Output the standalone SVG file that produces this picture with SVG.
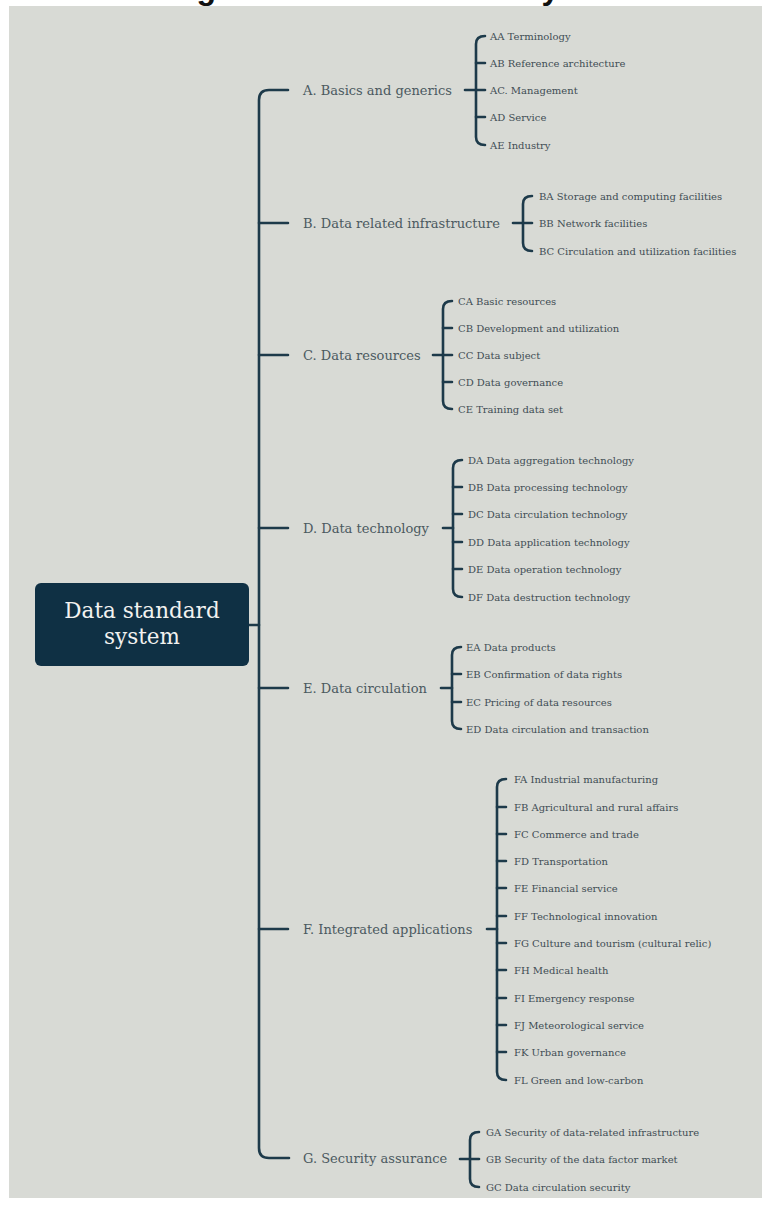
<svg xmlns="http://www.w3.org/2000/svg" width="762" height="1205" viewBox="0 0 762 1205">
  <style>
    .title { font-family: "Liberation Sans", Arial, sans-serif; font-weight: bold; font-size: 32px; fill: #111; }
    .root-box { fill: #0f3044; }
    .root-text { font-family: "DejaVu Serif", "Liberation Serif", serif; font-size: 21.5px; fill: #f2f2f0; text-anchor: middle; }
    .cat { font-family: "DejaVu Serif", "Liberation Serif", serif; font-size: 13px; fill: #4b5960; }
    .leaf { font-family: "DejaVu Serif", "Liberation Serif", serif; font-size: 10px; fill: #3f4d54; }
    .wire { fill: none; stroke: #1d3a4a; stroke-width: 2.6; stroke-linecap: round; stroke-linejoin: round; }
  </style>

  <!-- page background and panel -->
  <rect x="0" y="0" width="762" height="1205" fill="#ffffff"/>
  <text class="title" x="168" y="-1">Figure 1 Data standard system</text>
  <rect x="9" y="6" width="753" height="1192" fill="#d8dad5"/>

  <!-- connectors -->
  <g id="connectors" class="wire">
    <!-- trunk -->
    <path d="M249,625 L259,625"/>
    <path d="M288,90 L269,90 Q259,90 259,100 L259,1148 Q259,1158 269,1158 L289,1158"/>
    <path d="M259,223 L288,223 M259,355 L288,355 M259,528 L288,528 M259,688 L288,688 M259,929 L288,929"/>

    <!-- A brackets -->
    <path d="M465,90 L485,90"/>
    <path d="M485,36 Q476,36 476,44 L476,137 Q476,145 485,145"/>
    <path d="M476,63 L485,63 M476,117 L485,117"/>

    <!-- B -->
    <path d="M513,223 L532,223"/>
    <path d="M532,196 Q523,196 523,204 L523,243 Q523,251 532,251"/>

    <!-- C -->
    <path d="M433,355 L452,355"/>
    <path d="M452,301 Q443,301 443,309 L443,401 Q443,409 452,409"/>
    <path d="M443,328 L452,328 M443,382 L452,382"/>

    <!-- D -->
    <path d="M443,528 L453,528"/>
    <path d="M462,460 Q453,460 453,468 L453,589 Q453,597 462,597"/>
    <path d="M453,487 L462,487 M453,514 L462,514 M453,542 L462,542 M453,569 L462,569"/>

    <!-- E -->
    <path d="M441,688 L452,688"/>
    <path d="M461,647 Q452,647 452,655 L452,721 Q452,729 461,729"/>
    <path d="M452,674 L461,674 M452,702 L461,702"/>

    <!-- F -->
    <path d="M487,929 L497,929"/>
    <path d="M506,779 Q497,779 497,787 L497,1072 Q497,1080 506,1080"/>
    <path d="M497,807 L506,807 M497,834 L506,834 M497,861 L506,861 M497,888 L506,888 M497,916 L506,916 M497,943 L506,943 M497,970 L506,970 M497,998 L506,998 M497,1025 L506,1025 M497,1052 L506,1052"/>

    <!-- G -->
    <path d="M460,1159 L479,1159"/>
    <path d="M479,1132 Q470,1132 470,1140 L470,1179 Q470,1187 479,1187"/>
  </g>

  <!-- root -->
  <g id="root">
    <rect class="root-box" x="35" y="583" width="214" height="83" rx="6"/>
    <text class="root-text" x="142" y="618">Data standard</text>
    <text class="root-text" x="142" y="644">system</text>
  </g>

  <!-- categories -->
  <g id="cat-A"><text class="cat" x="303" y="94.5">A. Basics and generics</text></g>
  <g id="cat-B"><text class="cat" x="303" y="227.5">B. Data related infrastructure</text></g>
  <g id="cat-C"><text class="cat" x="303" y="359.5">C. Data resources</text></g>
  <g id="cat-D"><text class="cat" x="303" y="532.5">D. Data technology</text></g>
  <g id="cat-E"><text class="cat" x="303" y="692.5">E. Data circulation</text></g>
  <g id="cat-F"><text class="cat" x="303" y="933.5">F. Integrated applications</text></g>
  <g id="cat-G"><text class="cat" x="303" y="1162.5">G. Security assurance</text></g>

  <!-- leaves A -->
  <g id="leaf-AA"><text class="leaf" x="490" y="39.5">AA Terminology</text></g>
  <g id="leaf-AB"><text class="leaf" x="490" y="66.5">AB Reference architecture</text></g>
  <g id="leaf-AC"><text class="leaf" x="490" y="93.5">AC. Management</text></g>
  <g id="leaf-AD"><text class="leaf" x="490" y="120.5">AD Service</text></g>
  <g id="leaf-AE"><text class="leaf" x="490" y="148.5">AE Industry</text></g>

  <!-- leaves B -->
  <g id="leaf-BA"><text class="leaf" x="539" y="199.5">BA Storage and computing facilities</text></g>
  <g id="leaf-BB"><text class="leaf" x="539" y="226.5">BB Network facilities</text></g>
  <g id="leaf-BC"><text class="leaf" x="539" y="254.5">BC Circulation and utilization facilities</text></g>

  <!-- leaves C -->
  <g id="leaf-CA"><text class="leaf" x="458" y="304.5">CA Basic resources</text></g>
  <g id="leaf-CB"><text class="leaf" x="458" y="331.5">CB Development and utilization</text></g>
  <g id="leaf-CC"><text class="leaf" x="458" y="358.5">CC Data subject</text></g>
  <g id="leaf-CD"><text class="leaf" x="458" y="385.5">CD Data governance</text></g>
  <g id="leaf-CE"><text class="leaf" x="458" y="412.5">CE Training data set</text></g>

  <!-- leaves D -->
  <g id="leaf-DA"><text class="leaf" x="468" y="463.5">DA Data aggregation technology</text></g>
  <g id="leaf-DB"><text class="leaf" x="468" y="490.5">DB Data processing technology</text></g>
  <g id="leaf-DC"><text class="leaf" x="468" y="517.5">DC Data circulation technology</text></g>
  <g id="leaf-DD"><text class="leaf" x="468" y="545.5">DD Data application technology</text></g>
  <g id="leaf-DE"><text class="leaf" x="468" y="572.5">DE Data operation technology</text></g>
  <g id="leaf-DF"><text class="leaf" x="468" y="600.5">DF Data destruction technology</text></g>

  <!-- leaves E -->
  <g id="leaf-EA"><text class="leaf" x="466" y="650.5">EA Data products</text></g>
  <g id="leaf-EB"><text class="leaf" x="466" y="677.5">EB Confirmation of data rights</text></g>
  <g id="leaf-EC"><text class="leaf" x="466" y="705.5">EC Pricing of data resources</text></g>
  <g id="leaf-ED"><text class="leaf" x="466" y="732.5">ED Data circulation and transaction</text></g>

  <!-- leaves F -->
  <g id="leaf-FA"><text class="leaf" x="514" y="782.5">FA Industrial manufacturing</text></g>
  <g id="leaf-FB"><text class="leaf" x="514" y="810.5">FB Agricultural and rural affairs</text></g>
  <g id="leaf-FC"><text class="leaf" x="514" y="837.5">FC Commerce and trade</text></g>
  <g id="leaf-FD"><text class="leaf" x="514" y="864.5">FD Transportation</text></g>
  <g id="leaf-FE"><text class="leaf" x="514" y="891.5">FE Financial service</text></g>
  <g id="leaf-FF"><text class="leaf" x="514" y="919.5">FF Technological innovation</text></g>
  <g id="leaf-FG"><text class="leaf" x="514" y="946.5">FG Culture and tourism (cultural relic)</text></g>
  <g id="leaf-FH"><text class="leaf" x="514" y="973.5">FH Medical health</text></g>
  <g id="leaf-FI"><text class="leaf" x="514" y="1001.5">FI Emergency response</text></g>
  <g id="leaf-FJ"><text class="leaf" x="514" y="1028.5">FJ Meteorological service</text></g>
  <g id="leaf-FK"><text class="leaf" x="514" y="1055.5">FK Urban governance</text></g>
  <g id="leaf-FL"><text class="leaf" x="514" y="1083.5">FL Green and low-carbon</text></g>

  <!-- leaves G -->
  <g id="leaf-GA"><text class="leaf" x="486" y="1135.5">GA Security of data-related infrastructure</text></g>
  <g id="leaf-GB"><text class="leaf" x="486" y="1162.5">GB Security of the data factor market</text></g>
  <g id="leaf-GC"><text class="leaf" x="486" y="1190.5">GC Data circulation security</text></g>
</svg>
